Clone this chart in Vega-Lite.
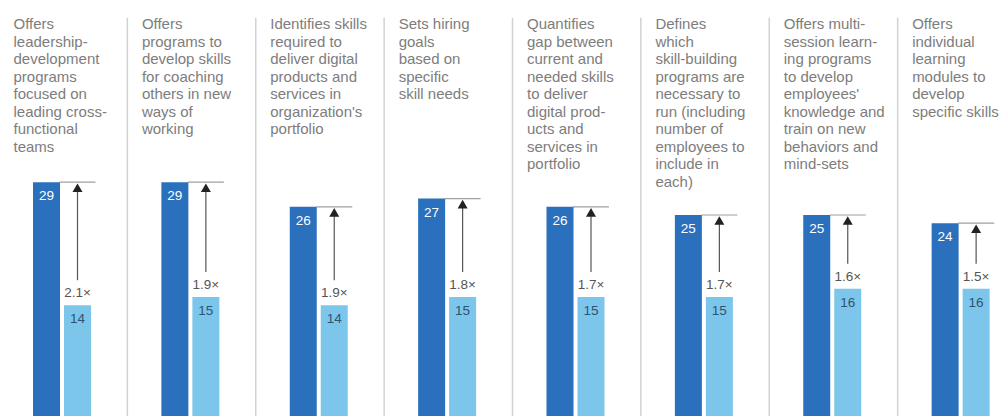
{
  "$schema": "https://vega.github.io/schema/vega-lite/v6.json",
  "width": 1006,
  "height": 416,
  "padding": 0,
  "autosize": {"type": "none"},
  "background": "white",
  "config": {
    "view": {"stroke": null},
    "font": "Liberation Sans",
    "axis": {"disable": true}
  },
  "datasets": {
    "cols": [
      {"cat": "c1", "label": "Offers\nleadership-\ndevelopment\nprograms\nfocused on\nleading cross-\nfunctional\nteams", "top": 29, "bottom": 14, "mult": "2.1×"},
      {"cat": "c2", "label": "Offers\nprograms to\ndevelop skills\nfor coaching\nothers in new\nways of\nworking", "top": 29, "bottom": 15, "mult": "1.9×"},
      {"cat": "c3", "label": "Identifies skills\nrequired to\ndeliver digital\nproducts and\nservices in\norganization's\nportfolio", "top": 26, "bottom": 14, "mult": "1.9×"},
      {"cat": "c4", "label": "Sets hiring\ngoals\nbased on\nspecific\nskill needs", "top": 27, "bottom": 15, "mult": "1.8×"},
      {"cat": "c5", "label": "Quantifies\ngap between\ncurrent and\nneeded skills\nto deliver\ndigital prod-\nucts and\nservices in\nportfolio", "top": 26, "bottom": 15, "mult": "1.7×"},
      {"cat": "c6", "label": "Defines\nwhich\nskill-building\nprograms are\nnecessary to\nrun (including\nnumber of\nemployees to\ninclude in\neach)", "top": 25, "bottom": 15, "mult": "1.7×"},
      {"cat": "c7", "label": "Offers multi-\nsession learn-\ning programs\nto develop\nemployees'\nknowledge and\ntrain on new\nbehaviors and\nmind-sets", "top": 25, "bottom": 16, "mult": "1.6×"},
      {"cat": "c8", "label": "Offers\nindividual\nlearning\nmodules to\ndevelop\nspecific skills", "top": 24, "bottom": 16, "mult": "1.5×"}
    ],
    "bars": [
      {"cat": "c1", "series": "dark", "value": 29},
      {"cat": "c1", "series": "light", "value": 14},
      {"cat": "c2", "series": "dark", "value": 29},
      {"cat": "c2", "series": "light", "value": 15},
      {"cat": "c3", "series": "dark", "value": 26},
      {"cat": "c3", "series": "light", "value": 14},
      {"cat": "c4", "series": "dark", "value": 27},
      {"cat": "c4", "series": "light", "value": 15},
      {"cat": "c5", "series": "dark", "value": 26},
      {"cat": "c5", "series": "light", "value": 15},
      {"cat": "c6", "series": "dark", "value": 25},
      {"cat": "c6", "series": "light", "value": 15},
      {"cat": "c7", "series": "dark", "value": 25},
      {"cat": "c7", "series": "light", "value": 16},
      {"cat": "c8", "series": "dark", "value": 24},
      {"cat": "c8", "series": "light", "value": 16}
    ]
  },
  "layer": [
    {
      "data": {"name": "cols"},
      "transform": [{"filter": "datum.cat !== 'c1'"}],
      "mark": {"type": "rule", "color": "#d2d2d2", "strokeWidth": 1.5, "clip": true},
      "encoding": {
        "x": {"field": "cat", "type": "nominal", "bandPosition": 0, "axis": null,
              "scale": {"domain": ["c1","c2","c3","c4","c5","c6","c7","c8"], "range": [-1, 1026], "paddingInner": 0, "paddingOuter": 0}},
        "y": {"datum": 49.05, "type": "quantitative", "axis": null,
              "scale": {"domain": [0.49, 51.22], "zero": false, "nice": false}},
        "y2": {"datum": 0.49}
      }
    },
    {
      "data": {"name": "cols"},
      "mark": {"type": "text", "align": "left", "baseline": "top", "dx": 14.5, "fontSize": 15, "lineHeight": 17.5, "lineBreak": "\n", "color": "#7d7d7d"},
      "encoding": {
        "x": {"field": "cat", "type": "nominal", "bandPosition": 0, "axis": null},
        "y": {"datum": 49.13, "type": "quantitative", "axis": null},
        "text": {"field": "label"}
      }
    },
    {
      "data": {"name": "bars"},
      "mark": {"type": "bar", "clip": true},
      "encoding": {
        "x": {"field": "cat", "type": "nominal", "axis": null},
        "xOffset": {"field": "series", "type": "nominal",
                    "scale": {"domain": ["dark", "light"], "range": [34, 92], "paddingInner": 0.129, "paddingOuter": 0}},
        "y": {"field": "value", "type": "quantitative", "axis": null},
        "color": {"field": "series", "type": "nominal", "legend": null,
                  "scale": {"domain": ["dark", "light"], "range": ["#2a70bd", "#7cc6ec"]}}
      }
    },
    {
      "data": {"name": "bars"},
      "mark": {"type": "text", "baseline": "middle", "align": "center", "dy": 14, "fontSize": 13.5},
      "encoding": {
        "x": {"field": "cat", "type": "nominal", "axis": null},
        "xOffset": {"field": "series", "type": "nominal"},
        "y": {"field": "value", "type": "quantitative", "axis": null},
        "text": {"field": "value", "type": "quantitative"},
        "color": {"condition": {"test": "datum.series === 'dark'", "value": "#ffffff"}, "value": "#2f5470"}
      }
    },
    {
      "data": {"name": "cols"},
      "mark": {"type": "tick", "orient": "horizontal", "size": 36, "thickness": 1.2, "color": "#777777"},
      "encoding": {
        "x": {"field": "cat", "type": "nominal", "axis": null},
        "xOffset": {"datum": "light"},
        "y": {"field": "top", "type": "quantitative", "axis": null}
      }
    },
    {
      "data": {"name": "cols"},
      "mark": {"type": "rule", "color": "#555555", "strokeWidth": 1.2, "yOffset": -25, "y2Offset": 9},
      "encoding": {
        "x": {"field": "cat", "type": "nominal", "axis": null},
        "xOffset": {"datum": "light"},
        "y": {"field": "bottom", "type": "quantitative", "axis": null},
        "y2": {"field": "top"}
      }
    },
    {
      "data": {"name": "cols"},
      "mark": {"type": "point", "shape": "triangle-up", "filled": true, "opacity": 1, "size": 100, "color": "#222222", "yOffset": 5.5},
      "encoding": {
        "x": {"field": "cat", "type": "nominal", "axis": null},
        "xOffset": {"datum": "light"},
        "y": {"field": "top", "type": "quantitative", "axis": null}
      }
    },
    {
      "data": {"name": "cols"},
      "mark": {"type": "text", "baseline": "middle", "align": "center", "dy": -12, "fontSize": 13.5, "color": "#555555"},
      "encoding": {
        "x": {"field": "cat", "type": "nominal", "axis": null},
        "xOffset": {"datum": "light"},
        "y": {"field": "bottom", "type": "quantitative", "axis": null},
        "text": {"field": "mult"}
      }
    }
  ]
}
